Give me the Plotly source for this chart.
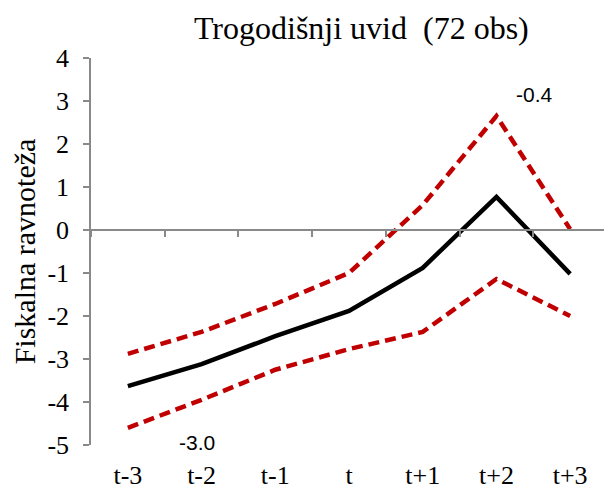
import plotly.graph_objects as go

# periods and series
periods = ['t-3', 't-2', 't-1', 't', 't+1', 't+2', 't+3']
srednja = [-3.63, -3.12, -2.47, -1.88, -0.88, 0.77, -1.02]
gornja = [-2.88, -2.37, -1.72, -1.0, 0.58, 2.65, 0.02]
donja = [-4.6, -3.95, -3.25, -2.77, -2.37, -1.14, -2.0]

y_ticks = [-5, -4, -3, -2, -1, 0, 1, 2, 3, 4]
y_ticktext = ['-5', '-4', '-3', '-2', '-1', '0', '1', '2', '3', '4']

# text labels: (period, y, text, xshift)
notes = [('t+2', 3.16, '-0.4', 38), ('t-2', -4.95, '-3.0', -5)]

SERIF = 'Liberation Serif'
RED = '#C00000'
GRAY = '#898989'

fig = go.Figure()

fig.add_trace(go.Scatter(x=periods, y=gornja, mode='lines',
                         line=dict(color=RED, width=4.5, dash='11px,6px'),
                         showlegend=False))
fig.add_trace(go.Scatter(x=periods, y=donja, mode='lines',
                         line=dict(color=RED, width=4.5, dash='11px,6px'),
                         showlegend=False))
fig.add_trace(go.Scatter(x=periods, y=srednja, mode='lines',
                         line=dict(color='black', width=4.5),
                         showlegend=False))
# invisible trace so the axis crossing at zero gets drawn
fig.add_trace(go.Scatter(x=periods, y=srednja, mode='lines', xaxis='x2',
                         line=dict(width=0), opacity=0, hoverinfo='skip',
                         showlegend=False))

for per, yy, txt, xs in notes:
    fig.add_annotation(x=per, y=yy, text=txt, showarrow=False, xshift=xs,
                       font=dict(family='Liberation Sans', size=21, color='black'))

# page body has an 8px margin, so the figure is a bit smaller than the window
fig.update_layout(
    width=604, height=481,
    paper_bgcolor='white', plot_bgcolor='white',
    margin=dict(l=83, r=5, t=50, b=44),
    title=dict(text='Trogodišnji uvid  (72 obs)', x=0.585, xanchor='center',
               y=0.958, yanchor='middle',
               font=dict(family=SERIF, size=32, color='black')),
    xaxis=dict(type='category', showline=False, ticks='', showgrid=False,
               zeroline=False, ticklabelstandoff=12, automargin=False,
               tickfont=dict(family=SERIF, size=26, color='black'),
               range=[-0.5, 6.5]),
    xaxis2=dict(type='category', overlaying='x', anchor='free', position=5 / 9,
                matches='x', showline=True, linecolor=GRAY, linewidth=1.5,
                ticks='outside', ticklen=6, tickcolor=GRAY, tickwidth=1.5,
                tickson='boundaries', showticklabels=False, showgrid=False,
                zeroline=False),
    yaxis=dict(range=[-5, 4], tickvals=y_ticks, ticktext=y_ticktext,
               showline=True, linecolor=GRAY, linewidth=1.5,
               ticks='outside', ticklen=6, tickcolor=GRAY, tickwidth=1.5,
               showgrid=False, zeroline=False, ticklabelstandoff=9,
               automargin=False,
               tickfont=dict(family=SERIF, size=26, color='black'),
               title=dict(text='Fiskalna ravnoteža', standoff=6,
                          font=dict(family=SERIF, size=30, color='black'))),
)

fig.write_html('out.html')
